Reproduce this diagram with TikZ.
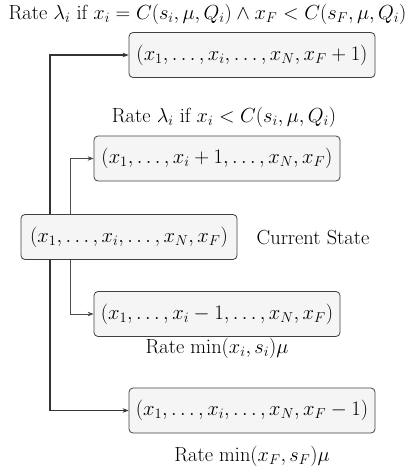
\documentclass[tikz,border=0pt]{standalone}
\usepackage{fix-cm}
\usetikzlibrary{arrows.meta}
\begin{document}
\begin{tikzpicture}[x=1pt,y=-1pt,
  statebox/.style={draw=black!75, fill=black!4, rounded corners=4pt, line width=0.8pt,
    minimum height=45pt, inner sep=0pt, font=\fontsize{20.6}{24}\selectfont},
  lbl/.style={inner sep=0pt, font=\fontsize{20.4}{24}\selectfont},
  outer/.style={draw=black!80, line width=1.2pt, -{Stealth[length=6pt,width=4.5pt]}},
  inner/.style={draw=black!70, line width=0.8pt, -{Stealth[length=6pt,width=4.5pt]}}]
\useasboundingbox (0,0) rectangle (407,472);
\node[statebox, minimum width=216pt] (cur) at (129,237) {$(x_1,\ldots,x_i,\ldots,x_N,x_F)$};
\node[statebox, minimum width=246pt] (b1) at (252,55) {$(x_1,\ldots,x_i,\ldots,x_N,x_F+1)$};
\node[statebox, minimum width=246pt] (b2) at (217,158.5) {$(x_1,\ldots,x_i+1,\ldots,x_N,x_F)$};
\node[statebox, minimum width=246pt] (b3) at (217,314) {$(x_1,\ldots,x_i-1,\ldots,x_N,x_F)$};
\node[statebox, minimum width=246pt] (b4) at (252,410.5) {$(x_1,\ldots,x_i,\ldots,x_N,x_F-1)$};
\node[lbl] (l1) at (207.5,14) {Rate $\lambda_i$ if $x_i=C(s_i,\mu,Q_i)\land x_F<C(s_F,\mu,Q_i)$};
\node[lbl] (l2) at (224,117) {Rate $\lambda_i$ if $x_i<C(s_i,\mu,Q_i)$};
\node[lbl] (cs) at (313,238) {Current State};
\node[lbl] (l3) at (217,348) {Rate $\min(x_i,s_i)\mu$};
\node[lbl] (l4) at (252,456) {Rate $\min(x_F,s_F)\mu$};
\coordinate (ox) at (50,0);
\coordinate (ix) at (70,0);
\draw[outer] (cur.north -| ox) |- (b1.west);
\draw[outer] (cur.south -| ox) |- (b4.west);
\draw[inner] (cur.north -| ix) |- (b2.west);
\draw[inner] (cur.south -| ix) |- (b3.west);
\end{tikzpicture}
\end{document}
